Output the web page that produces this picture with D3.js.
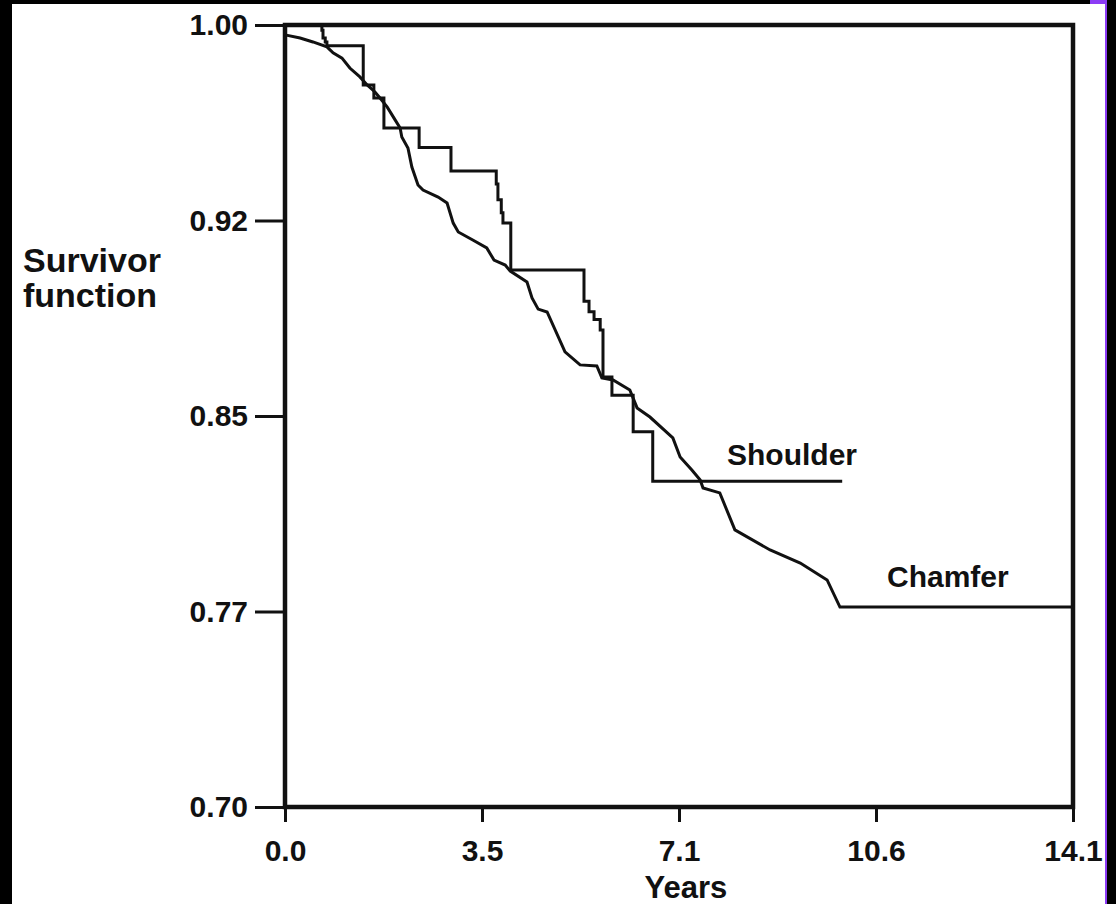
<!DOCTYPE html>
<html>
<head>
<meta charset="utf-8">
<script src="https://cdn.jsdelivr.net/npm/d3@7"></script>
<style>
  body { margin: 0; background: #fff; }
  text { font-family: "Liberation Sans", Arial, Helvetica, sans-serif; font-weight: bold; fill: #111; }
</style>
</head>
<body>
<div id="chart"></div>
<script>
// tick positions and their printed labels
var xTicks = [0, 3.525, 7.05, 10.575, 14.1],
    xTickLabels = ["0.0", "3.5", "7.1", "10.6", "14.1"];
var yTicks = [0.70, 0.775, 0.85, 0.925, 1.00],
    yTickLabels = ["0.70", "0.77", "0.85", "0.92", "1.00"];

// shoulder: step curve (years at each drop, survival after it)
var shoulderYears = [0, 0.66, 0.68, 0.72, 0.75, 1.40, 1.59, 1.77, 2.40, 2.97, 3.78, 3.81, 3.87, 3.90,
                     4.04, 5.35, 5.44, 5.53, 5.64, 5.69, 5.85, 6.23, 6.58, 9.97];
var shoulderSurvival = [1.000, 0.998, 0.995, 0.9935, 0.992, 0.977, 0.972, 0.9605, 0.953, 0.944, 0.939, 0.933, 0.928, 0.924,
                        0.906, 0.894, 0.890, 0.887, 0.883, 0.865, 0.858, 0.844, 0.825, 0.825];

// chamfer: many small steps
var chamferYears = [0, 0.27, 0.50, 0.75, 0.86, 1.02, 1.16, 1.34, 1.47, 1.61, 1.70, 1.83, 1.97, 2.06, 2.09, 2.20,
                    2.27, 2.38, 2.47, 2.74, 2.90, 3.01, 3.10, 3.36, 3.61, 3.74, 3.94, 4.03, 4.33, 4.42, 4.53,
                    4.69, 5.01, 5.28, 5.58, 5.67, 5.87, 6.17, 6.30, 6.53, 6.94, 7.07, 7.28, 7.43, 7.48, 7.78,
                    8.05, 8.68, 9.22, 9.70, 9.93, 14.1];
var chamferSurvival = [0.9962, 0.9950, 0.9935, 0.9916, 0.9893, 0.9873, 0.9835, 0.9801, 0.9770, 0.9743, 0.9720,
                       0.9685, 0.9636, 0.9605, 0.9570, 0.9528, 0.9455, 0.9386, 0.9367, 0.9340, 0.9317, 0.9240,
                       0.9206, 0.9175, 0.9145, 0.9098, 0.9079, 0.9056, 0.9014, 0.8953, 0.8910, 0.8899, 0.8746,
                       0.8696, 0.8692, 0.8646, 0.8638, 0.8600, 0.8531, 0.8496, 0.8416, 0.8343, 0.8293, 0.8254,
                       0.8224, 0.8205, 0.8063, 0.7986, 0.7936, 0.7871, 0.7767, 0.7767];

var width = 1116,
    height = 904;

var svg = d3.select("div#chart").append("svg")
    .attr("width", width)
    .attr("height", height);

var x = d3.scaleLinear().domain([0, 14.1]).range([285, 1073]);
var y = d3.scaleLinear().domain([0.70, 1.00]).range([807, 25]);

// y axis ticks + labels
svg.append("g")
    .attr("transform", `translate(${x(0)},0)`)
    .call(d3.axisLeft(y)
      .tickValues(yTicks)
      .tickFormat((d, i) => yTickLabels[i])
      .tickSize(30)
      .tickPadding(7))
    .call(g => g.select(".domain").remove())
    .call(g => g.selectAll("line").attr("stroke", "#111").attr("stroke-width", 3))
    .call(g => g.selectAll("text").attr("font-size", 30).attr("font-family", null).attr("fill", null));

// x axis ticks + labels
svg.append("g")
    .attr("transform", `translate(0,${y(0.70)})`)
    .call(d3.axisBottom(x)
      .tickValues(xTicks)
      .tickFormat((d, i) => xTickLabels[i])
      .tickSize(15)
      .tickPadding(18))
    .call(g => g.select(".domain").remove())
    .call(g => g.selectAll("line").attr("stroke", "#111").attr("stroke-width", 3))
    .call(g => g.selectAll("text").attr("font-size", 30).attr("font-family", null).attr("fill", null));

// plot frame
svg.append("rect")
    .attr("x", x(0))
    .attr("y", y(1))
    .attr("width", x(14.1) - x(0))
    .attr("height", y(0.70) - y(1))
    .attr("fill", "none")
    .attr("stroke", "#111")
    .attr("stroke-width", 4.5);

var line = d3.line()
    .x(d => x(d[0]))
    .y(d => y(d[1]));

svg.append("path")
    .datum(d3.zip(shoulderYears, shoulderSurvival))
    .attr("fill", "none")
    .attr("stroke", "#111")
    .attr("stroke-width", 3)
    .attr("d", line.curve(d3.curveStepAfter));

svg.append("path")
    .datum(d3.zip(chamferYears, chamferSurvival))
    .attr("fill", "none")
    .attr("stroke", "#111")
    .attr("stroke-width", 3)
    .attr("d", line.curve(d3.curveLinear));

// curve names
svg.append("text").attr("x", 727).attr("y", 465).attr("font-size", 30).text("Shoulder");
svg.append("text").attr("x", 887).attr("y", 587).attr("font-size", 30).text("Chamfer");

// axis titles
var ylab = svg.append("text").attr("x", 23).attr("y", 272).attr("font-size", 34);
ylab.append("tspan").attr("x", 23).text("Survivor");
ylab.append("tspan").attr("x", 23).attr("dy", 35).text("function");

svg.append("text")
    .attr("x", 686)
    .attr("y", 898)
    .attr("text-anchor", "middle")
    .attr("font-size", 31)
    .text("Years");

// scan border (black edges, purple seam on the right)
svg.append("rect").attr("x", 0).attr("y", 0).attr("width", 12).attr("height", height).attr("fill", "#000");
svg.append("rect").attr("x", 0).attr("y", 0).attr("width", width).attr("height", 4).attr("fill", "#000");
svg.append("rect").attr("x", 1090).attr("y", 0).attr("width", 17).attr("height", 4).attr("fill", "#8c3cf5");
svg.append("rect").attr("x", 1105).attr("y", 0).attr("width", 2).attr("height", height).attr("fill", "#8c3cf5");
svg.append("rect").attr("x", 1107).attr("y", 0).attr("width", 9).attr("height", height).attr("fill", "#000");
</script>
</body>
</html>
